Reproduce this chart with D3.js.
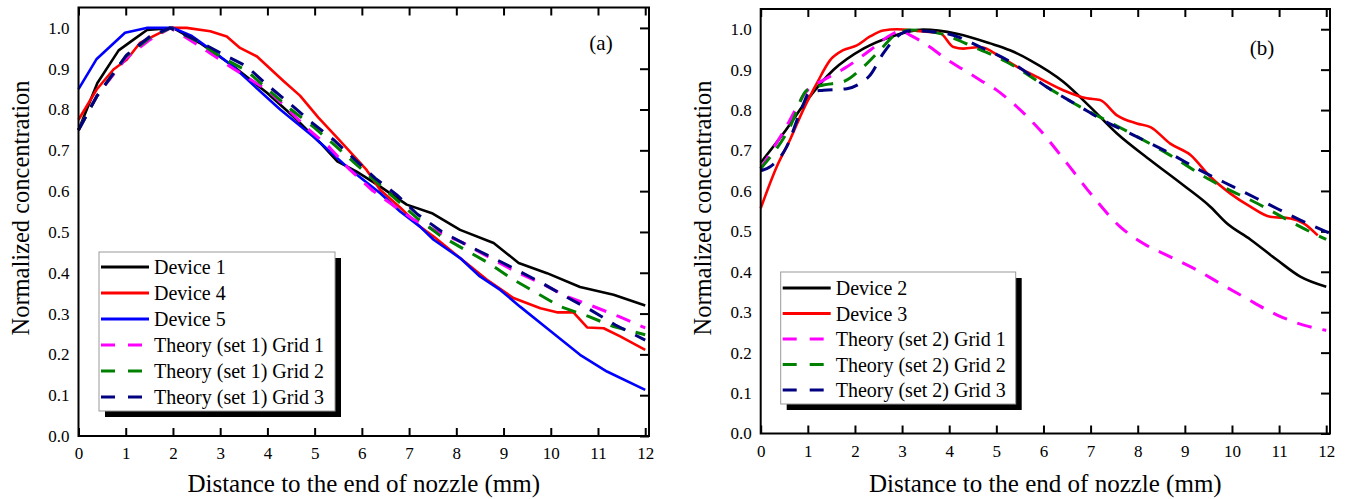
<!DOCTYPE html>
<html>
<head>
<meta charset="utf-8">
<script src="https://cdn.jsdelivr.net/npm/d3@7"></script>
<style>
  body { margin: 0; background: #fff; }
  text { font-family: "Liberation Serif", "Times New Roman", serif; fill: #000; }
</style>
</head>
<body>
<div id="chart"></div>
<script>
// ---- panel (a) data: [distance mm, normalized concentration]
var device1 = [[0,0.75],[0.4,0.865],[0.85,0.945],[1.15,0.97],[1.45,0.995],[2,1.0],[2.57,0.963],[3.28,0.906],[3.99,0.841],[4.55,0.783],[5.12,0.718],[5.48,0.673],[5.89,0.648],[6.39,0.611],[6.95,0.567],[7.5,0.545],[8.08,0.505],[8.79,0.473],[9.32,0.424],[9.92,0.399],[10.62,0.365],[11.33,0.346],[12,0.32]];
var device4 = [[0,0.775],[0.385,0.849],[0.74,0.898],[1.02,0.922],[1.3,0.963],[1.66,0.984],[1.94,1.0],[2.29,1.0],[2.79,0.992],[3.14,0.979],[3.42,0.951],[3.78,0.93],[4.34,0.87],[4.69,0.834],[5.08,0.78],[5.5,0.728],[6.1,0.652],[6.39,0.603],[6.81,0.56],[7.23,0.513],[7.52,0.489],[8.08,0.436],[8.65,0.383],[9.21,0.338],[9.78,0.313],[10.13,0.303],[10.48,0.303],[10.77,0.266],[11.12,0.264],[11.47,0.244],[12,0.211]];
var device5 = [[0,0.85],[0.385,0.924],[0.985,0.988],[1.44,1.0],[2,1.0],[2.4,0.98],[2.86,0.942],[3.28,0.905],[3.56,0.875],[4.27,0.8],[4.97,0.734],[5.68,0.66],[6.39,0.595],[6.81,0.55],[7.23,0.513],[7.52,0.481],[8.08,0.436],[8.5,0.391],[8.93,0.358],[9.35,0.317],[9.92,0.264],[10.62,0.199],[11.19,0.158],[12,0.113]];
var set1Grid1 = [[0,0.75],[0.4,0.835],[1,0.925],[1.5,0.97],[1.95,1.0],[2.57,0.955],[3.28,0.9],[4.02,0.846],[4.41,0.804],[4.83,0.755],[5.29,0.71],[5.75,0.652],[6.21,0.603],[6.64,0.567],[7.1,0.53],[7.66,0.497],[8.15,0.473],[8.72,0.436],[9.25,0.403],[9.78,0.375],[10.34,0.342],[10.87,0.319],[11.44,0.293],[12,0.265]];
var set1Grid2 = [[0,0.75],[0.4,0.835],[1,0.93],[1.5,0.975],[1.95,1.0],[2.5,0.968],[3,0.93],[3.56,0.895],[4,0.85],[4.5,0.8],[5,0.755],[5.4,0.715],[5.82,0.672],[6.28,0.625],[6.81,0.571],[7.17,0.534],[7.66,0.491],[8.19,0.456],[8.68,0.424],[9.21,0.383],[9.71,0.35],[10.2,0.317],[10.8,0.293],[11.33,0.268],[12,0.248]];
var set1Grid3 = [[0,0.75],[0.385,0.832],[1.02,0.934],[1.51,0.979],[1.94,1.0],[2.5,0.97],[3,0.939],[3.56,0.906],[3.99,0.861],[4.48,0.814],[4.92,0.77],[5.4,0.726],[5.82,0.681],[6.28,0.632],[6.74,0.591],[7.17,0.544],[7.69,0.501],[8.22,0.468],[8.75,0.438],[9.28,0.407],[9.81,0.375],[10.31,0.342],[10.84,0.309],[11.37,0.272],[12,0.235]];

// ---- panel (b) data
var device2 = [[0,0.67],[0.48,0.742],[0.98,0.824],[1.54,0.899],[2.18,0.952],[2.75,0.981],[3.45,0.999],[4.16,0.989],[4.87,0.965],[5.29,0.948],[5.72,0.923],[6.42,0.87],[6.99,0.808],[7.56,0.742],[8.27,0.676],[8.97,0.614],[9.54,0.561],[9.89,0.52],[10.39,0.48],[10.96,0.429],[11.45,0.388],[12,0.363]];
var device3 = [[0,0.557],[0.34,0.66],[0.62,0.726],[0.9,0.8],[1.19,0.866],[1.47,0.923],[1.75,0.948],[2.04,0.96],[2.32,0.982],[2.6,0.997],[2.89,1.0],[3.31,0.996],[3.81,0.99],[4.09,0.956],[4.3,0.952],[4.66,0.956],[5.08,0.932],[5.5,0.903],[5.86,0.882],[6.42,0.849],[6.92,0.829],[7.2,0.825],[7.56,0.787],[7.98,0.767],[8.27,0.758],[8.69,0.717],[9.12,0.689],[9.54,0.635],[9.96,0.594],[10.39,0.561],[10.81,0.536],[11.24,0.532],[11.52,0.52],[11.82,0.49]];
var set2Grid1 = [[0,0.655],[0.5,0.75],[1,0.85],[1.33,0.874],[1.83,0.907],[2.32,0.948],[2.75,0.985],[2.95,0.995],[3.24,0.981],[3.59,0.956],[3.95,0.925],[4.3,0.9],[4.66,0.874],[5,0.85],[5.36,0.816],[5.93,0.75],[6.5,0.668],[7.06,0.585],[7.63,0.511],[8.12,0.47],[8.69,0.437],[9.26,0.404],[9.75,0.371],[10.25,0.338],[10.96,0.293],[11.52,0.268],[12,0.255]];
var set2Grid2 = [[0,0.655],[0.62,0.758],[0.98,0.849],[1.33,0.862],[1.75,0.87],[2.18,0.907],[2.53,0.948],[2.89,0.989],[3.17,0.998],[3.81,0.989],[4.52,0.956],[5.22,0.919],[6.07,0.857],[6.78,0.808],[7.49,0.765],[8.62,0.693],[9.54,0.627],[10.67,0.561],[11.31,0.52],[11.87,0.487],[12,0.48]];
var set2Grid3 = [[0,0.65],[0.2,0.66],[0.55,0.709],[0.83,0.792],[1.05,0.845],[1.33,0.849],[1.83,0.853],[2.11,0.866],[2.32,0.886],[2.6,0.94],[2.89,0.981],[3.17,0.996],[3.95,0.989],[4.66,0.956],[5.36,0.915],[6.07,0.857],[6.78,0.808],[7.2,0.779],[7.91,0.738],[8.62,0.697],[9.33,0.651],[10.03,0.61],[10.74,0.569],[11.45,0.528],[12.08,0.495]];

var xTickValues = [0,1,2,3,4,5,6,7,8,9,10,11,12];
var yTickValues = [0,0.1,0.2,0.3,0.4,0.5,0.6,0.7,0.8,0.9,1.0];
var xTitle = "Distance to the end of nozzle (mm)";
var yTitle = "Normalized concentration";

var DASH = "15,11";

var svg = d3.select("#chart").append("svg")
  .attr("width", 1345)
  .attr("height", 499);

svg.append("rect").attr("width", 1345).attr("height", 499).attr("fill", "#fff");

function panel(p) {
  var x = d3.scaleLinear().domain([0, 12.08]).range([p.left, p.right]);
  var y = d3.scaleLinear().domain([0, 1.05]).range([p.bottom, p.top]);
  var g = svg.append("g");

  // axes, ticks pointing inward
  g.append("g")
    .attr("transform", "translate(0," + p.bottom + ")")
    .call(d3.axisBottom(x).tickValues(xTickValues).tickSize(-8).tickPadding(11).tickFormat(d3.format("d")))
    .call(function(a) { a.select(".domain").remove(); });
  g.append("g")
    .attr("transform", "translate(0," + p.top + ")")
    .call(d3.axisTop(x).tickValues(xTickValues).tickSize(-8).tickFormat(""))
    .call(function(a) { a.select(".domain").remove(); });
  g.append("g")
    .attr("transform", "translate(" + p.left + ",0)")
    .call(d3.axisLeft(y).tickValues(yTickValues).tickSize(0).tickPadding(9).tickFormat(d3.format(".1f")))
    .call(function(a) { a.select(".domain").remove(); });
  g.append("g")
    .attr("transform", "translate(" + p.right + ",0)")
    .call(d3.axisRight(y).tickValues(yTickValues).tickSize(-9).tickFormat(""))
    .call(function(a) { a.select(".domain").remove(); });

  g.selectAll(".tick line").attr("stroke", "#000").attr("stroke-width", 2);
  g.selectAll(".tick text")
    .style("font-family", "'Liberation Serif','Times New Roman',serif")
    .style("font-size", "17px")
    .attr("fill", "#000");

  // curves
  var line = d3.line()
    .x(function(d) { return x(d[0]); })
    .y(function(d) { return y(d[1]); })
    .curve(p.curve);

  p.series.forEach(function(s) {
    g.append("path")
      .datum(s.data)
      .attr("d", line)
      .attr("fill", "none")
      .attr("stroke", s.color)
      .attr("stroke-width", s.dash ? 3 : 2.6)
      .attr("stroke-dasharray", s.dash ? DASH : null)
      .attr("stroke-linejoin", "round");
  });

  // frame
  g.append("rect")
    .attr("x", p.left).attr("y", p.top)
    .attr("width", p.right - p.left).attr("height", p.bottom - p.top)
    .attr("fill", "none").attr("stroke", "#000").attr("stroke-width", 2);

  // panel label
  g.append("text")
    .attr("x", p.labelX).attr("y", p.labelY)
    .attr("text-anchor", "middle")
    .style("font-size", "21px")
    .text(p.label);

  // titles
  g.append("text")
    .attr("x", (p.left + p.right) / 2).attr("y", 492)
    .attr("text-anchor", "middle")
    .style("font-size", "25px")
    .text(xTitle);
  g.append("text")
    .attr("transform", "translate(" + (p.left - 50) + ",208) rotate(-90)")
    .attr("text-anchor", "middle")
    .style("font-size", "24.5px")
    .text(yTitle);

  // legend with drop shadow
  var L = p.legend;
  g.append("rect")
    .attr("x", L.x + 6).attr("y", L.y + 6)
    .attr("width", L.w).attr("height", L.h)
    .attr("fill", "#000");
  g.append("rect")
    .attr("x", L.x).attr("y", L.y)
    .attr("width", L.w).attr("height", L.h)
    .attr("fill", "#fff").attr("stroke", "#999").attr("stroke-width", 1);

  var rows = g.selectAll(".leg").data(p.series).enter().append("g")
    .attr("transform", function(d, i) { return "translate(" + L.x + "," + (L.y + L.first + i * L.step) + ")"; });
  rows.append("line")
    .attr("x1", 2).attr("x2", function(d) { return d.dash ? 46 : 50; })
    .attr("stroke", function(d) { return d.color; })
    .attr("stroke-width", 3)
    .attr("stroke-dasharray", function(d) { return d.dash ? "14,13" : null; });
  rows.append("text")
    .attr("x", 55).attr("dy", "0.35em")
    .style("font-size", "20px")
    .text(function(d) { return d.name; });
}

panel({
  left: 78.5, right: 649, top: 7.5, bottom: 436,
  curve: d3.curveLinear,
  label: "(a)", labelX: 601, labelY: 50,
  legend: { x: 99, y: 252, w: 236, h: 159, first: 15, step: 26 },
  series: [
    { name: "Device 1", data: device1, color: "#000000" },
    { name: "Device 4", data: device4, color: "#ff0000" },
    { name: "Device 5", data: device5, color: "#0000ff" },
    { name: "Theory (set 1) Grid 1", data: set1Grid1, color: "#ff00ff", dash: true },
    { name: "Theory (set 1) Grid 2", data: set1Grid2, color: "#008000", dash: true },
    { name: "Theory (set 1) Grid 3", data: set1Grid3, color: "#000080", dash: true }
  ]
});

panel({
  left: 760.7, right: 1330, top: 9, bottom: 433.5,
  curve: d3.curveMonotoneX,
  label: "(b)", labelX: 1262, labelY: 55,
  legend: { x: 780.7, y: 272, w: 235, h: 132, first: 16, step: 25.5 },
  series: [
    { name: "Device 2", data: device2, color: "#000000" },
    { name: "Device 3", data: device3, color: "#ff0000" },
    { name: "Theory (set 2) Grid 1", data: set2Grid1, color: "#ff00ff", dash: true },
    { name: "Theory (set 2) Grid 2", data: set2Grid2, color: "#008000", dash: true },
    { name: "Theory (set 2) Grid 3", data: set2Grid3, color: "#000080", dash: true }
  ]
});
</script>
</body>
</html>
